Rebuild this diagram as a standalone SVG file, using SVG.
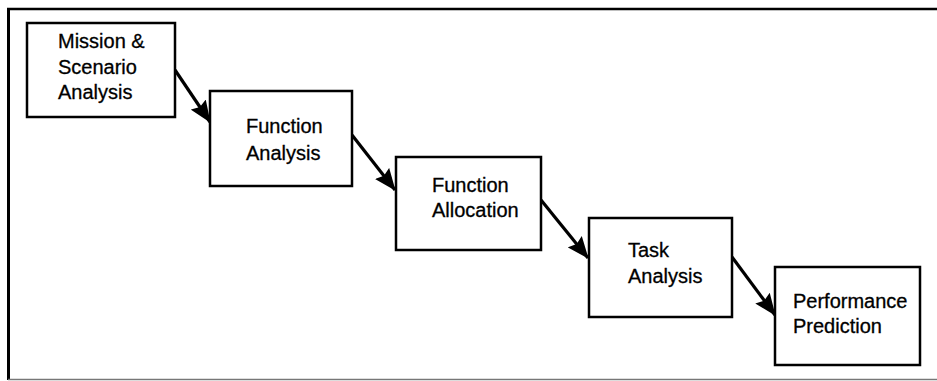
<svg xmlns="http://www.w3.org/2000/svg" width="937" height="381" viewBox="0 0 937 381">
<defs>
<style>
.box{fill:#fff;stroke:#000;stroke-width:2.5}
.t{font-family:"Liberation Sans",Arial,sans-serif;font-size:20px;fill:#000;stroke:#000;stroke-width:0.3}
.c{stroke:#000;stroke-width:3.2;fill:none}
</style>
<marker id="ah" viewBox="0 0 22 18" refX="21" refY="9" markerWidth="22" markerHeight="18" markerUnits="userSpaceOnUse" orient="auto">
<path d="M0,0 L22,9 L0,18 L3,9 Z" fill="#000"/>
</marker>
</defs>
<rect width="937" height="381" fill="#fff"/>
<g id="frame">
<line x1="7" y1="9" x2="937" y2="9" stroke="#000" stroke-width="2.5"/>
<line x1="8.5" y1="8" x2="8.5" y2="380" stroke="#000" stroke-width="3"/>
<line x1="8" y1="379.5" x2="937" y2="379.5" stroke="#777" stroke-width="1.5"/>
</g>
<g id="connectors">
<line class="c" x1="175" y1="70" x2="210" y2="122" marker-end="url(#ah)"/>
<line class="c" x1="352" y1="135" x2="395" y2="190" marker-end="url(#ah)"/>
<line class="c" x1="541" y1="200" x2="588" y2="258" marker-end="url(#ah)"/>
<line class="c" x1="732" y1="257" x2="775" y2="315" marker-end="url(#ah)"/>
</g>
<g id="n1">
<rect class="box" x="27" y="23" width="148" height="94"/>
<text class="t" x="58" y="48">Mission &amp;</text>
<text class="t" x="58" y="74">Scenario</text>
<text class="t" x="58" y="99">Analysis</text>
</g>
<g id="n2">
<rect class="box" x="210" y="91" width="142" height="95"/>
<text class="t" x="246" y="133">Function</text>
<text class="t" x="246" y="160">Analysis</text>
</g>
<g id="n3">
<rect class="box" x="396" y="157" width="145" height="93"/>
<text class="t" x="432" y="192">Function</text>
<text class="t" x="432" y="217">Allocation</text>
</g>
<g id="n4">
<rect class="box" x="589" y="218" width="143" height="99"/>
<text class="t" x="628" y="257">Task</text>
<text class="t" x="628" y="283">Analysis</text>
</g>
<g id="n5">
<rect class="box" x="775" y="267" width="145" height="98"/>
<text class="t" x="793" y="308">Performance</text>
<text class="t" x="793" y="333">Prediction</text>
</g>
</svg>
